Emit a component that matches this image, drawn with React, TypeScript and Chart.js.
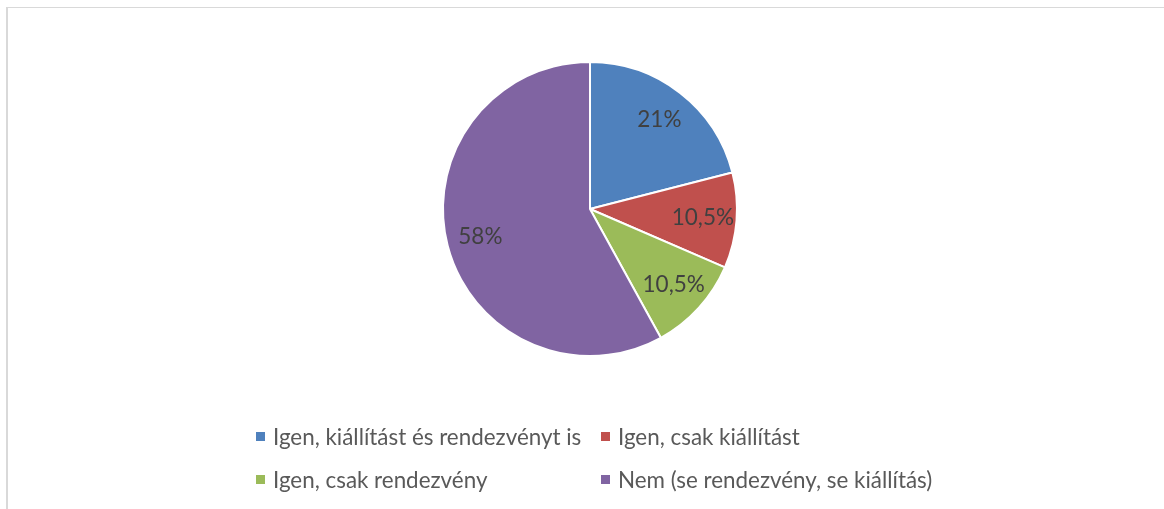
import React, { useEffect, useRef } from "react";
import { Chart, registerables } from "chart.js";

Chart.register(...registerables);

const categories = [
  "Igen, kiállítást és rendezvényt is",
  "Igen, csak kiállítást",
  "Igen, csak rendezvény",
  "Nem (se rendezvény, se kiállítás)",
];
const values = [21, 10.5, 10.5, 58];
const colors = ["#4F81BD", "#C0504D", "#9BBB59", "#8064A2"];

const FONT = "Lato, 'Open Sans', sans-serif";

const labelPlugin = {
  id: "sliceLabels",
  afterDatasetsDraw(chart: any) {
    const ctx = chart.ctx;
    const meta = chart.getDatasetMeta(0);
    ctx.save();
    ctx.font = `22.5px ${FONT}`;
    ctx.fillStyle = "#404040";
    ctx.textAlign = "center";
    ctx.textBaseline = "middle";
    meta.data.forEach((arc: any, i: number) => {
      const p = arc.getProps(["x", "y", "startAngle", "endAngle", "outerRadius"], true);
      const mid = (p.startAngle + p.endAngle) / 2;
      const r = p.outerRadius * 0.77;
      const txt = String(values[i]).replace(".", ",") + "%";
      ctx.fillText(txt, p.x + Math.cos(mid) * r, p.y + Math.sin(mid) * r);
    });
    ctx.restore();
  },
};

export default function App() {
  const ref = useRef<HTMLCanvasElement>(null);
  useEffect(() => {
    if (!ref.current) return;
    const chart = new Chart(ref.current, {
      type: "pie",
      data: {
        labels: categories,
        datasets: [
          {
            data: values,
            backgroundColor: colors,
            borderColor: "#ffffff",
            borderWidth: 2,
          },
        ],
      },
      options: {
        animation: false,
        responsive: false,
        maintainAspectRatio: false,
        layout: { padding: { left: 442, top: 61, right: 426, bottom: 152 } },
        plugins: { legend: { display: false }, tooltip: { enabled: false } },
      },
      plugins: [labelPlugin],
    });
    return () => chart.destroy();
  }, []);

  const legendPos = [
    { x: 256, y: 436 },
    { x: 601, y: 436 },
    { x: 256, y: 479 },
    { x: 601, y: 479 },
  ];

  return (
    <div
      style={{
        position: "fixed",
        left: 0,
        top: 0,
        width: 1164,
        height: 509,
        background: "#ffffff",
        overflow: "hidden",
      }}
    >
      <div
        style={{
          position: "absolute",
          left: 6,
          top: 7,
          width: 1200,
          height: 600,
          borderLeft: "2px solid #d9d9d9",
          borderTop: "1px solid #d9d9d9",
        }}
      />
      <canvas ref={ref} width={1164} height={509} style={{ position: "absolute", left: 0, top: 0 }} />
      {categories.map((c, i) => (
        <div
          key={c}
          style={{
            position: "absolute",
            left: legendPos[i].x,
            top: legendPos[i].y - 15,
            height: 30,
            display: "flex",
            alignItems: "center",
            whiteSpace: "nowrap",
            fontFamily: FONT,
            fontSize: 22.4,
            color: "#595959",
          }}
        >
          <span style={{ display: "inline-block", width: 9, height: 9, background: colors[i], marginRight: 8 }} />
          <span>{c}</span>
        </div>
      ))}
    </div>
  );
}
